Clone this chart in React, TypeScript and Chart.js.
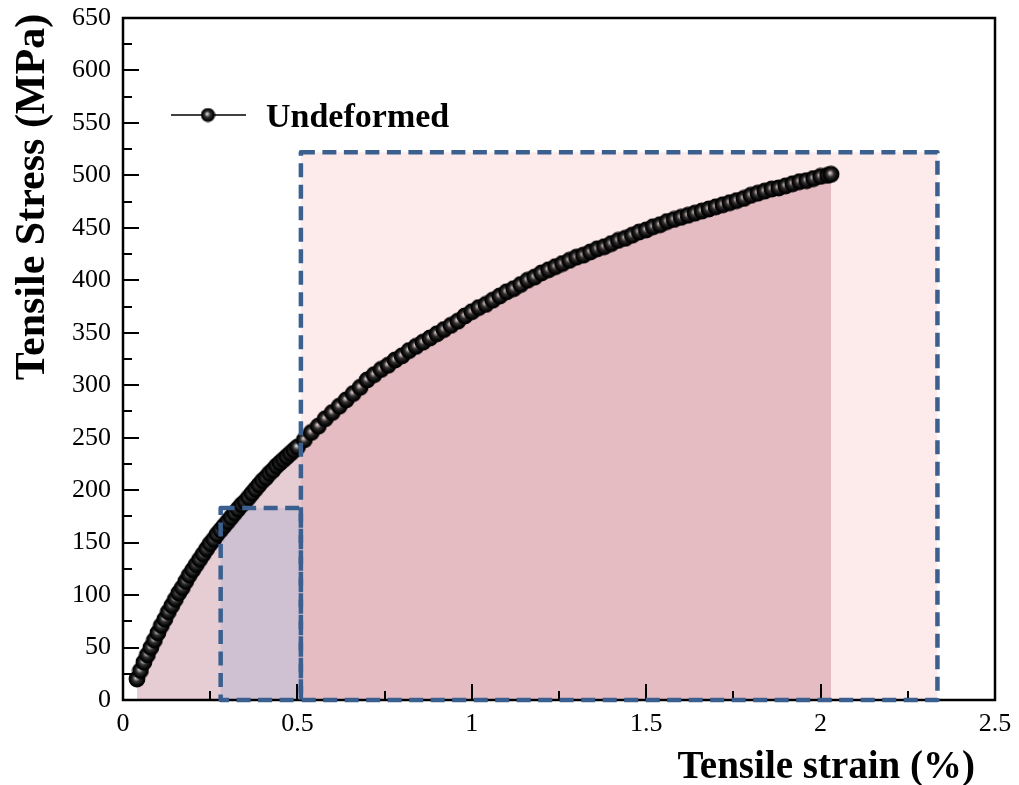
import React, { useEffect, useRef } from "react";
import { Chart, registerables } from "chart.js";

Chart.register(...registerables);

const strain = [
  0.04, 0.05, 0.06, 0.07, 0.08, 0.09, 0.1, 0.11, 0.12, 0.13, 0.14, 0.15, 0.16, 0.17, 0.18, 0.19, 0.2, 0.21, 0.22, 0.23,
  0.24, 0.25, 0.26, 0.27, 0.28, 0.29, 0.3, 0.31, 0.32, 0.33, 0.34, 0.35, 0.36, 0.37, 0.38, 0.39, 0.4, 0.41, 0.42, 0.43,
  0.44, 0.45, 0.46, 0.47, 0.48, 0.49, 0.5,
  0.52, 0.54, 0.56, 0.58, 0.6, 0.62, 0.64, 0.66, 0.68, 0.7, 0.72, 0.74, 0.76, 0.78, 0.8, 0.82, 0.84, 0.86, 0.88, 0.9,
  0.92, 0.94, 0.96, 0.98, 1.0, 1.02, 1.04, 1.06, 1.08, 1.1, 1.12, 1.14, 1.16, 1.18, 1.2, 1.22, 1.24, 1.26, 1.28, 1.3,
  1.32, 1.34, 1.36, 1.38, 1.4, 1.42, 1.44, 1.46, 1.48, 1.5, 1.52, 1.54, 1.56, 1.58, 1.6, 1.62, 1.64, 1.66, 1.68, 1.7,
  1.72, 1.74, 1.76, 1.78, 1.8, 1.82, 1.84, 1.86, 1.88, 1.9, 1.92, 1.94, 1.96, 1.98, 2.0, 2.02, 2.03,
];

const stress = [
  20, 28, 36, 43, 50, 57, 64, 71, 77, 84, 90, 96, 102, 107, 113, 119, 124, 129, 134, 139,
  144, 149, 153, 158, 162, 166, 170, 174, 178, 182, 186, 189, 193, 197, 201, 205, 209, 212, 216, 219,
  223, 226, 229, 232, 235, 238, 241,
  248, 255, 261, 268, 274, 280, 286, 292, 298, 305, 310, 315, 319, 324, 328, 333, 337, 341, 345, 349,
  353, 357, 361, 366, 370, 374, 377, 381, 385, 389, 392, 396, 400, 403, 407, 410, 413, 416, 419, 422,
  424, 427, 430, 432, 435, 438, 440, 443, 446, 448, 451, 453, 456, 458, 460, 462, 464, 466, 468, 470,
  472, 474, 476, 478, 481, 483, 485, 487, 488, 490, 492, 494, 495, 497, 499, 500, 501,
];

const xTickValues = [0, 0.5, 1, 1.5, 2, 2.5];
const xTickLabels = ["0", "0.5", "1", "1.5", "2", "2.5"];
const xMinorValues = [0.25, 0.75, 1.25, 1.75, 2.25];
const yTickValues = [0, 50, 100, 150, 200, 250, 300, 350, 400, 450, 500, 550, 600, 650];
const yMinorValues = [25, 75, 125, 175, 225, 275, 325, 375, 425, 475, 525, 575, 625];

// highlighted regions: [xStart, xEnd, yTop]
const bigBox = [0.51, 2.335, 522];
const smallBox = [0.28, 0.51, 183];

const seriesName = "Undeformed";
const xTitle = "Tensile strain (%)";
const yTitle = "Tensile Stress (MPa)";

const FONT = "'Liberation Serif', 'Times New Roman', serif";

function makeSphere(r: number): HTMLCanvasElement {
  const c = document.createElement("canvas");
  const s = Math.ceil(r * 2 + 2);
  c.width = s;
  c.height = s;
  const ctx = c.getContext("2d")!;
  const cx = s / 2;
  const g = ctx.createRadialGradient(cx - r * 0.15, cx - r * 0.2, 0, cx, cx, r);
  g.addColorStop(0, "#f4f4f4");
  g.addColorStop(0.18, "#a8a8a8");
  g.addColorStop(0.45, "#333333");
  g.addColorStop(0.8, "#0a0a0a");
  g.addColorStop(1, "#000000");
  ctx.fillStyle = g;
  ctx.beginPath();
  ctx.arc(cx, cx, r, 0, Math.PI * 2);
  ctx.fill();
  ctx.lineWidth = 1.2;
  ctx.strokeStyle = "#000";
  ctx.stroke();
  return c;
}

export default function App() {
  const ref = useRef<HTMLCanvasElement>(null);

  useEffect(() => {
    if (!ref.current) return;
    const sphere = makeSphere(7.8);
    const legendSphere = makeSphere(6.5);

    const overlay = {
      id: "overlay",
      afterDatasetsDraw(chart: any) {
        const { ctx, chartArea, scales } = chart;
        const { left, right, top, bottom } = chartArea;
        const xs = scales.x;
        const ys = scales.y;
        const px = (v: number) => xs.getPixelForValue(v);
        const py = (v: number) => ys.getPixelForValue(v);

        // multiply overlays
        ctx.save();
        ctx.globalCompositeOperation = "multiply";
        ctx.fillStyle = "#fdeaeb";
        ctx.fillRect(px(bigBox[0]), py(bigBox[2]), px(bigBox[1]) - px(bigBox[0]), bottom - py(bigBox[2]));
        ctx.fillStyle = "#e6effe";
        ctx.fillRect(px(smallBox[0]), py(smallBox[2]), px(smallBox[1]) - px(smallBox[0]), bottom - py(smallBox[2]));
        ctx.restore();

        // frame
        ctx.save();
        ctx.strokeStyle = "#000";
        ctx.lineWidth = 2.5;
        ctx.strokeRect(left, top, right - left, bottom - top);
        // ticks
        ctx.lineWidth = 2;
        ctx.beginPath();
        yTickValues.forEach((v) => {
          const y = Math.round(py(v));
          ctx.moveTo(left, y);
          ctx.lineTo(left + 16, y);
        });
        yMinorValues.forEach((v) => {
          const y = Math.round(py(v));
          ctx.moveTo(left, y);
          ctx.lineTo(left + 9, y);
        });
        xTickValues.forEach((v) => {
          const x = Math.round(px(v));
          ctx.moveTo(x, bottom);
          ctx.lineTo(x, bottom - 16);
        });
        xMinorValues.forEach((v) => {
          const x = Math.round(px(v));
          ctx.moveTo(x, bottom);
          ctx.lineTo(x, bottom - 9);
        });
        ctx.stroke();
        ctx.restore();

        // dashed boxes
        ctx.save();
        ctx.strokeStyle = "#3b5f8e";
        ctx.lineWidth = 4.5;
        ctx.setLineDash([14, 7.5]);
        ctx.lineJoin = "round";
        [smallBox, bigBox].forEach((b) => {
          ctx.strokeRect(px(b[0]), py(b[2]), px(b[1]) - px(b[0]), bottom - py(b[2]));
        });
        ctx.restore();

        // legend
        ctx.save();
        ctx.strokeStyle = "#000";
        ctx.lineWidth = 1.3;
        ctx.beginPath();
        ctx.moveTo(171, 115);
        ctx.lineTo(246, 115);
        ctx.stroke();
        ctx.drawImage(legendSphere, 208 - legendSphere.width / 2, 115 - legendSphere.height / 2);
        ctx.fillStyle = "#000";
        ctx.font = `bold 34px ${FONT}`;
        ctx.textAlign = "left";
        ctx.textBaseline = "alphabetic";
        ctx.fillText(seriesName, 266, 127);

        // axis titles
        ctx.font = `bold 39px ${FONT}`;
        ctx.textAlign = "right";
        ctx.fillText(xTitle, 975, 778);
        ctx.translate(44, 197);
        ctx.rotate(-Math.PI / 2);
        ctx.font = `bold 42px ${FONT}`;
        ctx.textAlign = "center";
        ctx.fillText(yTitle, 0, 0);
        ctx.restore();
      },
    };

    const chart = new Chart(ref.current, {
      type: "scatter",
      data: {
        datasets: [
          {
            label: seriesName,
            data: strain.map((x, i) => ({ x, y: stress[i] })),
            showLine: true,
            borderWidth: 0,
            borderColor: "rgba(0,0,0,0)",
            backgroundColor: "#e6cdd3",
            fill: "origin",
            pointStyle: sphere as any,
            pointRadius: 8,
            tension: 0,
          } as any,
        ],
      },
      options: {
        animation: false,
        responsive: false,
        layout: { padding: { top: 18, right: 24, left: 0, bottom: 0 } },
        plugins: { legend: { display: false }, tooltip: { enabled: false } },
        scales: {
          x: {
            type: "linear",
            min: 0,
            max: 2.5,
            afterFit: (s: any) => {
              s.height = 85;
              s.paddingLeft = 0;
              s.paddingRight = 0;
            },
            afterBuildTicks: (s: any) => {
              s.ticks = xTickValues.map((v) => ({ value: v }));
            },
            grid: { display: false, drawTicks: false },
            border: { display: false },
            ticks: {
              padding: 9,
              color: "#000",
              font: { family: FONT, size: 26 },
              maxRotation: 0,
              callback: (v: any) => {
                const i = xTickValues.indexOf(Number(v));
                return i >= 0 ? xTickLabels[i] : "";
              },
            },
          },
          y: {
            type: "linear",
            min: 0,
            max: 650,
            afterFit: (s: any) => {
              s.width = 123;
              s.paddingTop = 0;
              s.paddingBottom = 0;
            },
            afterBuildTicks: (s: any) => {
              s.ticks = yTickValues.map((v) => ({ value: v }));
            },
            grid: { display: false, drawTicks: false },
            border: { display: false },
            ticks: {
              padding: 12,
              color: "#000",
              font: { family: FONT, size: 26 },
              callback: (v: any) => String(v),
            },
          },
        },
      },
      plugins: [overlay],
    });
    return () => chart.destroy();
  }, []);

  return (
    <canvas
      ref={ref}
      width={1019}
      height={785}
      style={{ position: "absolute", left: 0, top: 0, width: 1019, height: 785 }}
    />
  );
}
